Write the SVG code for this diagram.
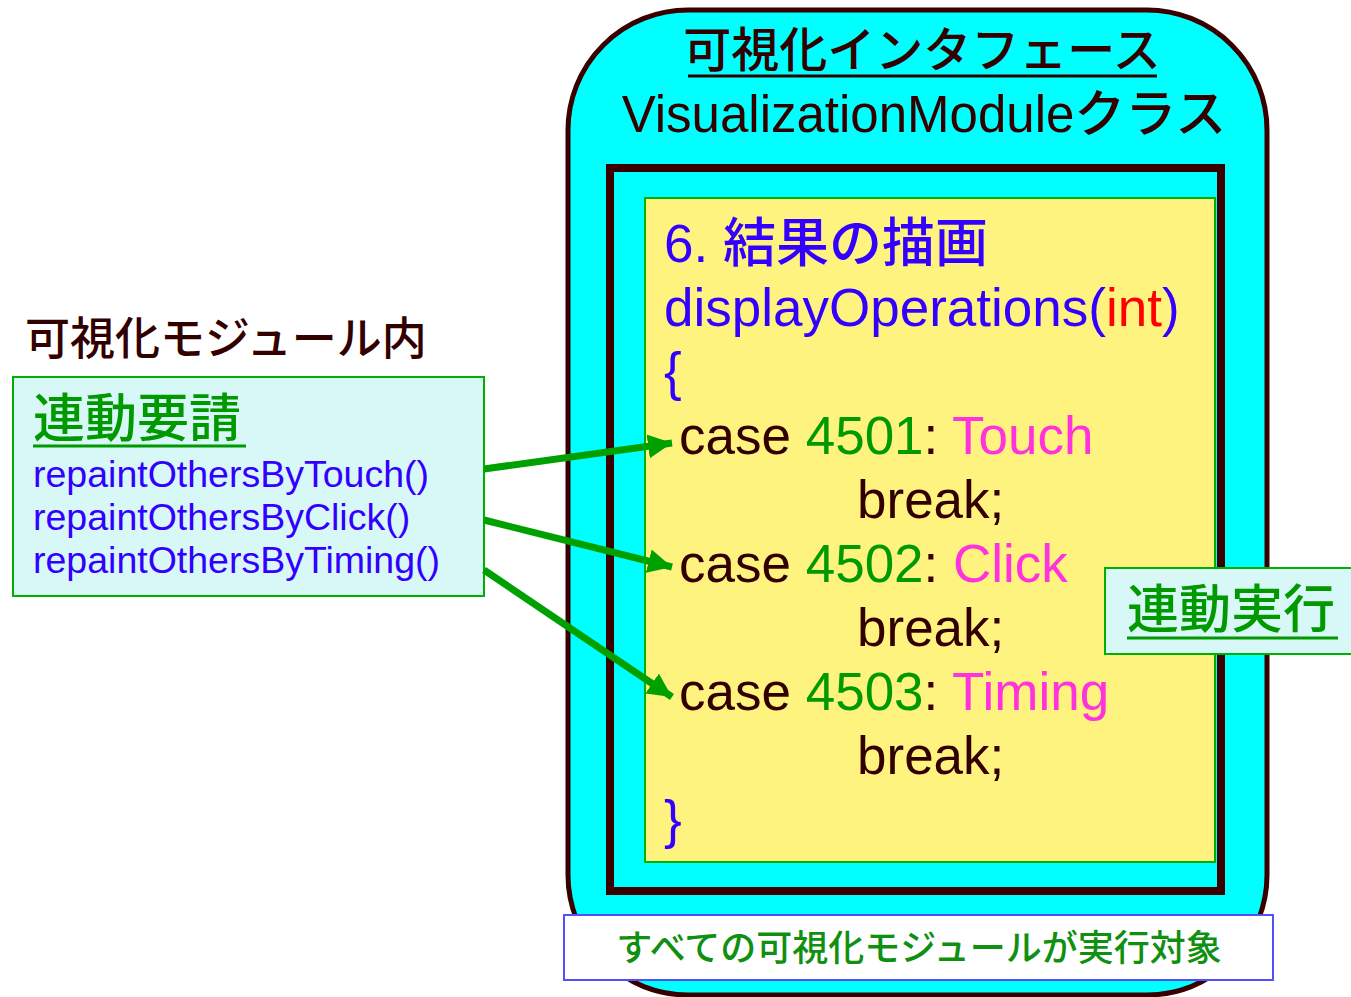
<svg xmlns="http://www.w3.org/2000/svg" width="1351" height="997" viewBox="0 0 1351 997">
<style>
text{font-family:"Liberation Sans","Noto Sans CJK JP",sans-serif;font-weight:500;}
.dk{fill:#330000;}
.bl{fill:#3300ff;}
.gr{fill:#009a00;}
.pk{fill:#ff33dd;}
.rd{fill:#ff0000;}
.code{font-size:53px;}
.fn{font-size:37.5px;}
.ul{stroke-width:3;}
</style>
<defs>
<marker id="ah" markerUnits="userSpaceOnUse" markerWidth="26" markerHeight="26" viewBox="0 0 26 26" refX="24" refY="13" orient="auto">
<path d="M0,1 L24,13 L0,25 Z" fill="#00a000"/>
</marker>
</defs>
<rect width="1351" height="997" fill="#ffffff"/>
<g id="interface">
<rect x="568" y="10" width="699" height="985" rx="120" ry="120" fill="#00ffff" stroke="#3a0000" stroke-width="5"/>
<text x="922" y="67" font-size="48" text-anchor="middle" class="dk">可視化インタフェース</text>
<line x1="688" y1="76" x2="1157" y2="76" stroke="#330000" class="ul"/>
<text x="924" y="132" font-size="51" text-anchor="middle" class="dk">VisualizationModuleクラス</text>
</g>
<g id="method">
<rect x="610" y="168" width="611" height="723" fill="#00ffff" stroke="#3a0000" stroke-width="8"/>
<rect x="645" y="198" width="570" height="664" fill="#fff380" stroke="#00b000" stroke-width="2"/>
<text x="664" y="262" font-size="53" class="bl">6. 結果の描画</text>
<text x="664" y="326" font-size="53" class="bl">displayOperations(<tspan class="rd">int</tspan>)</text>
<text x="664" y="390" font-size="53" class="bl">{</text>
<text x="679" y="454" class="code dk">case <tspan class="gr">4501</tspan>: <tspan class="pk">Touch</tspan></text>
<text x="857" y="518" class="code dk">break;</text>
<text x="679" y="582" class="code dk">case <tspan class="gr">4502</tspan>: <tspan class="pk">Click</tspan></text>
<text x="857" y="646" class="code dk">break;</text>
<text x="679" y="710" class="code dk">case <tspan class="gr">4503</tspan>: <tspan class="pk">Timing</tspan></text>
<text x="857" y="774" class="code dk">break;</text>
<text x="664" y="838" font-size="53" class="bl">}</text>
</g>
<g id="module-label">
<text x="25" y="355" font-size="45" class="dk">可視化モジュール内</text>
</g>
<g id="request">
<rect x="13" y="377" width="471" height="219" fill="#d8f8f8" stroke="#00b000" stroke-width="2"/>
<text x="33" y="437" font-size="52" class="gr">連動要請</text>
<line x1="33" y1="446" x2="246" y2="446" stroke="#009a00" class="ul"/>
<text x="33" y="487" class="fn bl">repaintOthersByTouch()</text>
<text x="33" y="530" class="fn bl">repaintOthersByClick()</text>
<text x="33" y="573" class="fn bl">repaintOthersByTiming()</text>
</g>
<g id="execute">
<rect x="1105" y="568" width="250" height="86" fill="#d8f8f8" stroke="#00b000" stroke-width="2"/>
<text x="1127" y="628" font-size="52" class="gr">連動実行</text>
<line x1="1127" y1="638" x2="1338" y2="638" stroke="#009a00" class="ul"/>
</g>
<g id="target">
<rect x="564" y="915" width="709" height="65" fill="#ffffff" stroke="#5050ff" stroke-width="2"/>
<text x="919" y="961" font-size="36" text-anchor="middle" fill="#109010">すべての可視化モジュールが実行対象</text>
</g>
<g id="connectors" stroke="#00a000" stroke-width="7" fill="none">
<line x1="484" y1="469" x2="672" y2="443" marker-end="url(#ah)"/>
<line x1="484" y1="520" x2="672" y2="567" marker-end="url(#ah)"/>
<line x1="484" y1="570" x2="672" y2="697" marker-end="url(#ah)"/>
</g>
</svg>
